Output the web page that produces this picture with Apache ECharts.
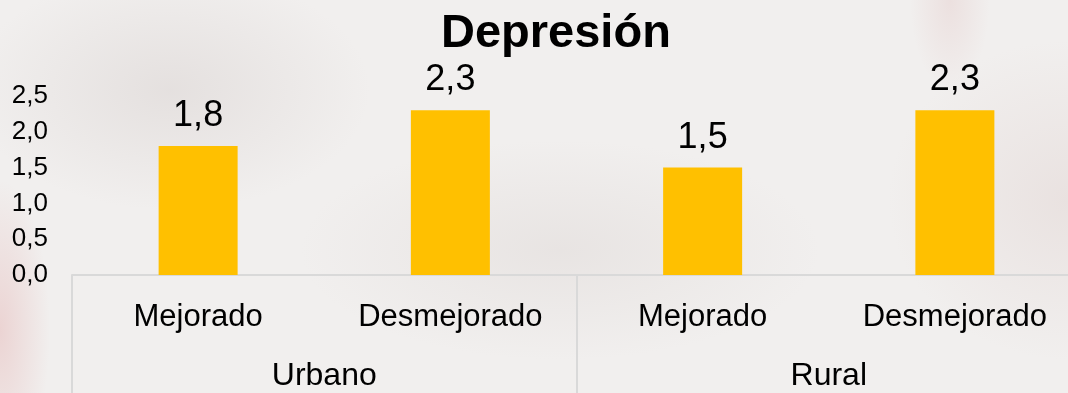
<!DOCTYPE html>
<html>
<head>
<meta charset="utf-8">
<script src="https://cdn.jsdelivr.net/npm/echarts@6/dist/echarts.min.js"></script>
<style>
  html, body { margin: 0; padding: 0; }
  body {
    width: 1068px; height: 393px; overflow: hidden;
    /* washed-out backdrop with soft warm patches */
    background:
      radial-gradient(ellipse 50px 150px at 0px 330px, rgba(220,140,140,0.28), rgba(220,140,140,0) 100%),
      radial-gradient(ellipse 40px 90px at 950px 0px, rgba(190,90,90,0.10), rgba(190,90,90,0) 100%),
      radial-gradient(ellipse 200px 120px at 170px 90px, rgba(200,190,188,0.30), rgba(200,190,188,0) 100%),
      radial-gradient(ellipse 260px 110px at 560px 250px, rgba(205,195,192,0.25), rgba(205,195,192,0) 100%),
      radial-gradient(ellipse 180px 160px at 1068px 200px, rgba(215,195,192,0.30), rgba(215,195,192,0) 100%),
      #f1efee;
  }
  /* plot runs a little past the right edge, so the canvas is wider than the window */
  #chart { width: 1100px; height: 393px; }
</style>
</head>
<body>
<div id="chart"></div>
<script>
// Chart content
const titleText = 'Depresión';
const subCategories = ['Mejorado', 'Desmejorado', 'Mejorado', 'Desmejorado'];
const groupCategories = ['Urbano', 'Rural'];
const values = [1.8, 2.3, 1.5, 2.3];
const yMin = 0;
const yMax = 2.5;
const yStep = 0.5;

const fmt = v => Number(v).toFixed(1).replace('.', ',');
const FONT = 'Liberation Sans, Arial, sans-serif';

const chart = echarts.init(document.getElementById('chart'), null, { renderer: 'canvas' });

chart.setOption({
  backgroundColor: 'transparent',
  animation: false,
  title: {
    text: titleText,
    left: 436,
    top: 6,
    textStyle: { fontFamily: FONT, fontSize: 47, fontWeight: 'bold', color: '#000' }
  },
  grid: { left: 72, top: 96, width: 1009, height: 179 },
  xAxis: [
    {
      type: 'category',
      data: subCategories,
      position: 'bottom',
      axisLine: { show: true, lineStyle: { color: '#d9d9d9', width: 2 } },
      axisTick: { show: false },
      axisLabel: { interval: 0, margin: 27, fontFamily: FONT, fontSize: 31, color: '#000' },
      splitLine: { show: false }
    },
    {
      type: 'category',
      data: groupCategories,
      position: 'bottom',
      gridIndex: 0,
      axisLine: { show: false },
      axisTick: { show: true, interval: 0, length: 120, lineStyle: { color: '#d9d9d9', width: 2 } },
      axisLabel: { interval: 0, margin: 85, fontFamily: FONT, fontSize: 32, color: '#000' },
      splitLine: { show: false }
    }
  ],
  yAxis: {
    type: 'value',
    min: yMin,
    max: yMax,
    interval: yStep,
    axisLine: { show: false },
    axisTick: { show: false },
    splitLine: { show: false },
    axisLabel: { margin: 24, fontFamily: FONT, fontSize: 26, color: '#000', formatter: fmt }
  },
  series: [{
    type: 'bar',
    xAxisIndex: 0,
    data: values,
    barWidth: 79,
    itemStyle: { color: '#ffc000' },
    label: {
      show: true,
      position: 'top',
      distance: 12,
      fontFamily: FONT,
      fontSize: 36,
      color: '#000',
      formatter: p => fmt(p.value)
    }
  }]
});
</script>
</body>
</html>
